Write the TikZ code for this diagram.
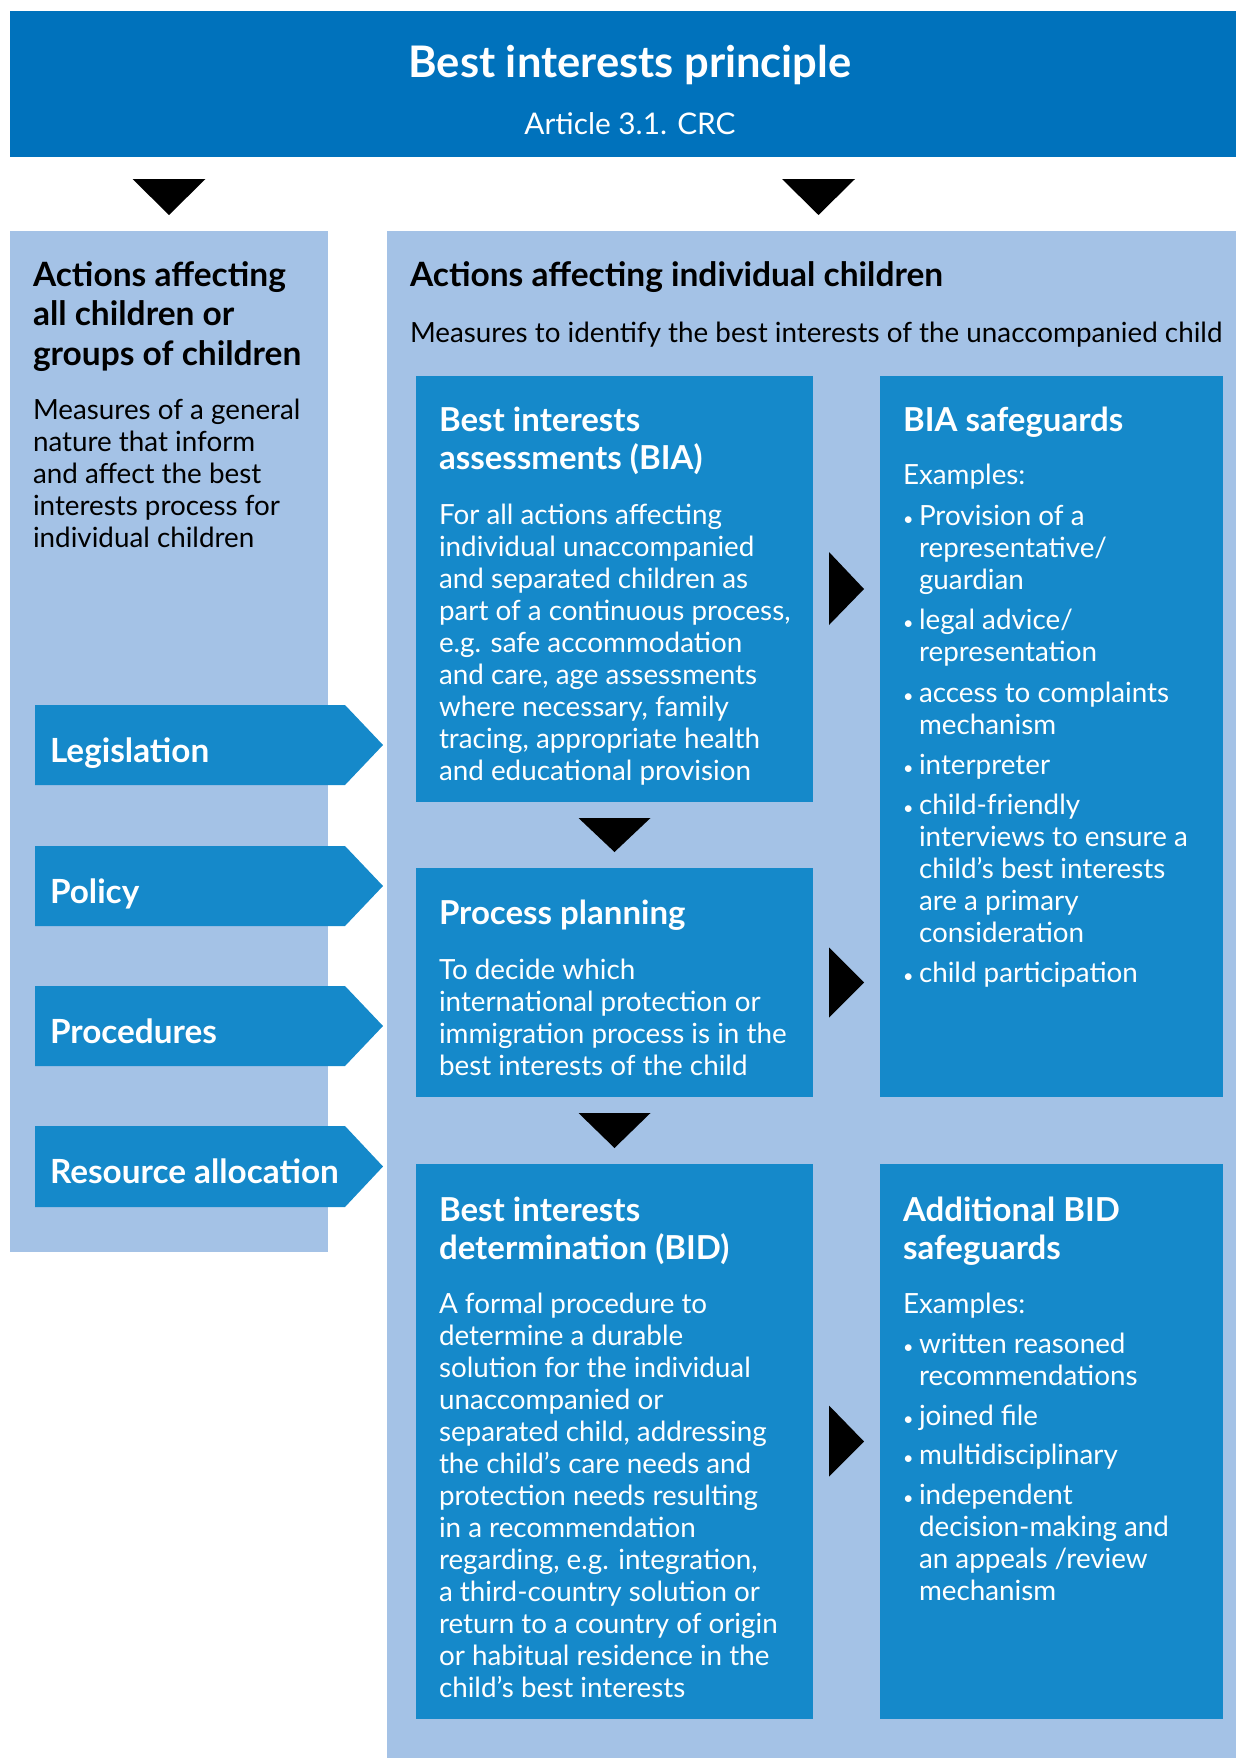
\documentclass[tikz,border=0pt]{standalone}
\usepackage{fontspec}
\setmainfont{Lato}
\usetikzlibrary{calc}
\definecolor{hdr}{RGB}{0,114,188}
\definecolor{dk}{RGB}{21,137,202}
\definecolor{lt}{RGB}{164,194,230}
\newcommand{\pbox}[2]{\parbox[t]{#1}{\raggedright #2}}
\newcommand{\bul}{\makebox[16pt][l]{\fontsize{18}{18}\selectfont •}}
\newcommand{\ind}{\hspace*{16pt}}
\tikzset{
  box/.style={fill=#1, draw=none, inner sep=0pt, outer sep=0pt, anchor=north west, rectangle},
  tx/.style={anchor=base west, inner sep=0pt, outer sep=0pt},
  wtitle/.style={tx, text=white, font=\fontsize{33}{38}\selectfont\bfseries},
  wbody/.style={tx, text=white, font=\fontsize{27.8}{32}\selectfont},
  btitle/.style={tx, text=black, font=\fontsize{33.5}{39.5}\selectfont\bfseries},
  bbody/.style={tx, text=black, font=\fontsize{27.8}{32}\selectfont},
  lbl/.style={tx, text=white, font=\fontsize{33.3}{36}\selectfont\bfseries},
  tri/.style={fill=black, draw=none},
  arrowshape/.style={fill=dk, draw=none}
}
\begin{document}
\begin{tikzpicture}[x=1pt,y=-1pt]
\useasboundingbox (0,0) rectangle (1236,1758);
\fill[white] (0,0) rectangle (1236,1758);

% header
\node[box=hdr, minimum width=1226pt, minimum height=146pt] (header) at (10,11) {};
\node[anchor=base, inner sep=0pt, text=white, font=\fontsize{43.5}{46}\selectfont\bfseries] (title) at (630,78) {Best interests principle};
\node[anchor=base, inner sep=0pt, text=white, font=\fontsize{29.8}{32}\selectfont] (subtitle) at (630,134.5) {Article 3.1. CRC};

% panels
\node[box=lt, minimum width=318pt, minimum height=1021pt] (lp) at (10,231) {};
\node[box=lt, minimum width=849pt, minimum height=1527pt] (rp) at (387,231) {};

% top triangles
\fill[tri] ($(lp.north)+(-36.5,-52)$) -- ($(lp.north)+(36.5,-52)$) -- ($(lp.north)+(0,-16)$) -- cycle;
\fill[tri] ($(rp.north)+(-29.5,-52)$) -- ($(rp.north)+(43.5,-52)$) -- ($(rp.north)+(7,-16)$) -- cycle;

% left panel text
\node[btitle] (lhead) at (33,286) {\pbox{300pt}{Actions affecting\\all children or\\groups of children}};
\node[bbody] (ldesc) at (33,419) {\pbox{300pt}{Measures of a general\\nature that inform\\and affect the best\\interests process for\\individual children}};

% left arrows
\fill[arrowshape] (35,705) -- (345,705) -- (383,745) -- (345,785) -- (35,785) -- cycle;
\node[lbl] (leg) at (50,762) {Legislation};
\fill[arrowshape] (35,846) -- (345,846) -- (383,886) -- (345,926) -- (35,926) -- cycle;
\node[lbl] (pol) at (50,903) {Policy};
\fill[arrowshape] (35,986) -- (345,986) -- (383,1026) -- (345,1066) -- (35,1066) -- cycle;
\node[lbl] (proced) at (50,1043) {Procedures};
\fill[arrowshape] (35,1126) -- (345,1126) -- (383,1166.5) -- (345,1207) -- (35,1207) -- cycle;
\node[lbl] (res) at (50,1183) {Resource allocation};

% right panel headings
\node[btitle] (rhead) at (410,286) {Actions affecting individual children};
\node[bbody] (rdesc) at (410,342) {Measures to identify the best interests of the unaccompanied child};

% boxes
\node[box=dk, minimum width=397pt, minimum height=426pt] (bia) at (416,376) {};
\node[box=dk, minimum width=343pt, minimum height=721pt] (bias) at (880,376) {};
\node[box=dk, minimum width=397pt, minimum height=229pt] (proc) at (416,868) {};
\node[box=dk, minimum width=397pt, minimum height=555pt] (bid) at (416,1164) {};
\node[box=dk, minimum width=343pt, minimum height=555pt] (bids) at (880,1164) {};

% BIA
\node[wtitle] (biat) at (439,431.5) {\pbox{370pt}{Best interests\\assessments (BIA)}};
\node[wbody] (biab) at (439,524.5) {\pbox{370pt}{For all actions affecting\\individual unaccompanied\\and separated children as\\part of a continuous process,\\e.g. safe accommodation\\and care, age assessments\\where necessary, family\\tracing, appropriate health\\and educational provision}};

% BIA safeguards
\node[wtitle] (biast) at (903,431.5) {BIA safeguards};
\node[wbody] (biasb) at (903,484.5) {\pbox{320pt}{Examples:\\[8.5pt]
\bul Provision of a\\\ind representative/\\\ind guardian\\[8.5pt]
\bul legal advice/\\\ind representation\\[8.5pt]
\bul access to complaints\\\ind mechanism\\[8.5pt]
\bul interpreter\\[8pt]
\bul child-friendly\\\ind interviews to ensure a\\\ind child’s best interests\\\ind are a primary\\\ind consideration\\[8pt]
\bul child participation}};

% Process planning
\node[wtitle] (proct) at (439,924.5) {Process planning};
\node[wbody] (procb) at (439,979.5) {\pbox{370pt}{To decide which\\international protection or\\immigration process is in the\\best interests of the child}};

% BID
\node[wtitle] (bidt) at (439,1221.5) {\pbox{370pt}{Best interests\\determination (BID)}};
\node[wbody] (bidb) at (439,1313.5) {\pbox{370pt}{A formal procedure to\\determine a durable\\solution for the individual\\unaccompanied or\\separated child, addressing\\the child’s care needs and\\protection needs resulting\\in a recommendation\\regarding, e.g. integration,\\a third-country solution or\\return to a country of origin\\or habitual residence in the\\child’s best interests}};

% Additional BID safeguards
\node[wtitle] (bidst) at (903,1221.5) {\pbox{320pt}{Additional BID\\safeguards}};
\node[wbody] (bidsb) at (903,1313.5) {\pbox{320pt}{Examples:\\[7.5pt]
\bul written reasoned\\\ind recommendations\\[8pt]
\bul joined file\\[7.5pt]
\bul multidisciplinary\\[8pt]
\bul independent\\\ind decision-making and\\\ind an appeals /review\\\ind mechanism}};

% down triangles
\fill[tri] ($(bia.south)+(-36,16)$) -- ($(bia.south)+(36,16)$) -- ($(bia.south)+(0,50)$) -- cycle;
\fill[tri] ($(proc.south)+(-36,16)$) -- ($(proc.south)+(36,16)$) -- ($(proc.south)+(0,51)$) -- cycle;

% right triangles
\fill[tri] ($(bia.east)+(16,36)$) -- ($(bia.east)+(16,-37)$) -- ($(bia.east)+(51,0)$) -- cycle;
\fill[tri] ($(proc.east)+(16,35)$) -- ($(proc.east)+(16,-35)$) -- ($(proc.east)+(51,0)$) -- cycle;
\fill[tri] ($(bid.east)+(16,35)$) -- ($(bid.east)+(16,-36)$) -- ($(bid.east)+(51,0)$) -- cycle;
\end{tikzpicture}
\end{document}
